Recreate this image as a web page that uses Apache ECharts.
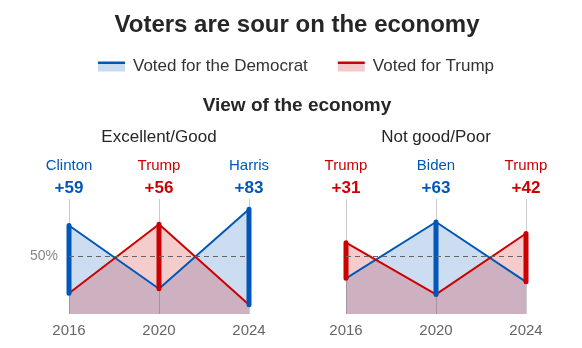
<!DOCTYPE html>
<html><head><meta charset="utf-8">
<script src="https://cdn.jsdelivr.net/npm/echarts@6/dist/echarts.min.js"></script>
<style>html,body{margin:0;padding:0;background:#fff}#c{width:582px;height:348px}</style>
</head><body><div id="c"></div>
<script>
// ---- data ----
const years = ['2016', '2020', '2024'];
const goodDem = [77, 22, 91];
const goodTrump = [18, 78, 8];
const goodWinners = ['Clinton', 'Trump', 'Harris'];
const goodWinnerParty = ['D', 'R', 'D'];
const goodMargins = ['+59', '+56', '+83'];
const poorDem = [31, 80, 28];
const poorTrump = [62, 17, 70];
const poorWinners = ['Trump', 'Biden', 'Trump'];
const poorWinnerParty = ['R', 'D', 'R'];
const poorMargins = ['+31', '+63', '+42'];
const panelTitles = ['Excellent/Good', 'Not good/Poor'];
const demName = 'Voted for the Democrat';
const repName = 'Voted for Trump';

const BLUE = '#0057b8', RED = '#cc0000';
const BLUE_FILL = 'rgba(0,87,184,0.2)', RED_FILL = 'rgba(204,0,0,0.2)';
const FONT = '"Liberation Sans", Arial, Helvetica, sans-serif';

const chart = echarts.init(document.getElementById('c'), null, {renderer: 'canvas'});

const grids = [
  {left: 69, right: 333, top: 199, bottom: 34},
  {left: 346, right: 56, top: 199, bottom: 34}
];
const panels = [
  {dem: goodDem, rep: goodTrump, winners: goodWinners, party: goodWinnerParty, margins: goodMargins, yLabel: true},
  {dem: poorDem, rep: poorTrump, winners: poorWinners, party: poorWinnerParty, margins: poorMargins, yLabel: false}
];

const xAxes = [], yAxes = [], series = [];
panels.forEach((p, g) => {
  xAxes.push({
    type: 'category', gridIndex: g, data: years, boundaryGap: false, position: 'bottom',
    axisLine: {show: false}, axisTick: {show: false},
    splitLine: {show: true, lineStyle: {color: '#cccccc', width: 1}},
    axisLabel: {color: '#666', fontSize: 15, fontFamily: FONT, margin: 9}
  });
  xAxes.push({
    type: 'category', gridIndex: g, data: p.winners, boundaryGap: false, position: 'top',
    axisLine: {show: false}, axisTick: {show: false}, splitLine: {show: false},
    axisLabel: {
      margin: 0, fontFamily: FONT,
      formatter: (v, i) => {
        const k = p.party[i] === 'D' ? 'd' : 'r';
        return '{' + k + 'n|' + p.winners[i] + '}\n{' + k + 'm|' + p.margins[i] + '}';
      },
      rich: {
        dn: {color: BLUE, fontSize: 15, lineHeight: 22, fontFamily: FONT},
        dm: {color: BLUE, fontSize: 17, fontWeight: 'bold', lineHeight: 22, fontFamily: FONT},
        rn: {color: RED, fontSize: 15, lineHeight: 22, fontFamily: FONT},
        rm: {color: RED, fontSize: 17, fontWeight: 'bold', lineHeight: 22, fontFamily: FONT}
      }
    }
  });
  yAxes.push({
    type: 'value', gridIndex: g, min: 0, max: 100, interval: 50,
    axisLine: {show: false}, axisTick: {show: false}, splitLine: {show: false},
    axisLabel: {
      show: p.yLabel, color: '#888', fontSize: 14, fontFamily: FONT, margin: 11,
      formatter: v => (v === 50 ? '50%' : '')
    }
  });
  series.push({
    name: demName, type: 'line', xAxisIndex: 2 * g, yAxisIndex: g, data: p.dem,
    symbol: 'none', lineStyle: {color: BLUE, width: 2}, itemStyle: {color: BLUE},
    areaStyle: {color: BLUE_FILL, opacity: 1}, z: 2
  });
  series.push({
    name: repName, type: 'line', xAxisIndex: 2 * g, yAxisIndex: g, data: p.rep,
    symbol: 'none', lineStyle: {color: RED, width: 2}, itemStyle: {color: RED},
    areaStyle: {color: RED_FILL, opacity: 1}, z: 2,
    markLine: {
      silent: true, symbol: ['none', 'none'], label: {show: false},
      lineStyle: {color: '#666', type: [5, 4], width: 1},
      data: [{yAxis: 50}]
    }
  });
  series.push({
    type: 'custom', xAxisIndex: 2 * g, yAxisIndex: g, z: 4,
    data: years.map((y, i) => ({
      value: [i, Math.min(p.dem[i], p.rep[i]), Math.max(p.dem[i], p.rep[i])],
      itemStyle: {color: p.dem[i] > p.rep[i] ? BLUE : RED}
    })),
    renderItem: (params, api) => {
      const a = api.coord([api.value(0), api.value(1)]);
      const b = api.coord([api.value(0), api.value(2)]);
      return {
        type: 'line',
        shape: {x1: a[0], y1: a[1], x2: b[0], y2: b[1]},
        style: {stroke: api.visual('color'), lineWidth: 5, lineCap: 'round'}
      };
    }
  });
});

const grad = (top, fill) => ({
  type: 'linear', x: 0, y: 0, x2: 0, y2: 1,
  colorStops: [{offset: 0, color: top}, {offset: 0.3, color: top}, {offset: 0.3, color: fill}, {offset: 1, color: fill}]
});

const option = {
  animation: false,
  grid: grids,
  xAxis: xAxes,
  yAxis: yAxes,
  series: series,
  legend: {
    left: 98, top: 58, padding: 0, itemGap: 30, itemWidth: 27, itemHeight: 10,
    textStyle: {color: '#333', fontSize: 17, fontFamily: FONT, padding: [0, 0, 0, 3]},
    selectedMode: false,
    data: [
      {name: demName, icon: 'rect', itemStyle: {color: grad(BLUE, '#c9dcef'), borderWidth: 0}},
      {name: repName, icon: 'rect', itemStyle: {color: grad(RED, '#f4c9ca'), borderWidth: 0}}
    ]
  },
  graphic: [
    {type: 'text', x: 297, y: 25, style: {text: 'Voters are sour on the economy', fill: '#262626', font: 'bold 24px ' + FONT, align: 'center', verticalAlign: 'middle'}},
    {type: 'text', x: 297, y: 106, style: {text: 'View of the economy', fill: '#262626', font: 'bold 19px ' + FONT, align: 'center', verticalAlign: 'middle'}},
    {type: 'text', x: 159, y: 137, style: {text: panelTitles[0], fill: '#262626', font: '17px ' + FONT, align: 'center', verticalAlign: 'middle'}},
    {type: 'text', x: 436, y: 137, style: {text: panelTitles[1], fill: '#262626', font: '17px ' + FONT, align: 'center', verticalAlign: 'middle'}}
  ]
};
chart.setOption(option);
</script>
</body></html>
